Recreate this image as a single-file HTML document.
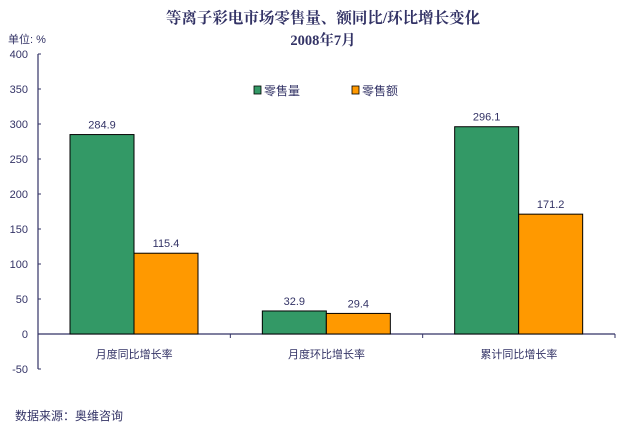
<!DOCTYPE html>
<html><head><meta charset="utf-8"><style>
body{margin:0;background:#fff;}
svg{display:block;font-family:"Liberation Sans","Noto Sans CJK SC",sans-serif;}
</style></head><body>
<svg id="c" width="618" height="432">
<text x="323" y="23" text-anchor="middle" font-size="15.5" font-weight="bold" fill="#333366" font-family="'Liberation Serif','Noto Serif CJK SC',serif">等离子彩电市场零售量、额同比/环比增长变化</text>
<text x="323" y="45" text-anchor="middle" font-size="14.5" font-weight="bold" fill="#333366" font-family="'Liberation Serif','Noto Serif CJK SC',serif">2008年7月</text>
<text x="8" y="43" font-size="11" fill="#333366">单位: %</text>
<g id="legend">
<g><rect x="254" y="86" width="7" height="8" fill="#339966" stroke="#000" stroke-width="0.8"/><text x="264" y="95" font-size="12" fill="#333366">零售量</text></g>
<g><rect x="352" y="86" width="7" height="8" fill="#FF9900" stroke="#000" stroke-width="0.8"/><text x="362" y="95" font-size="12" fill="#333366">零售额</text></g>
</g>
<text x="15" y="420" font-size="12" fill="#333366">数据来源：奥维咨询</text>
</svg>
<script>
const categories=["月度同比增长率","月度环比增长率","累计同比增长率"];
const volume=[284.9,32.9,296.1];
const value=[115.4,29.4,171.2];
const ticks=[-50,0,50,100,150,200,250,300,350,400];
const svg=document.getElementById('c');const NS="http://www.w3.org/2000/svg";
const x0=38,x1=615,yMin=-50,yMax=400,yTop=54,yBot=369;
const y=v=>yBot-(v-yMin)/(yMax-yMin)*(yBot-yTop);
const cw=(x1-x0)/categories.length;
function mk(t,a){const e=document.createElementNS(NS,t);for(const k in a)e.setAttribute(k,a[k]);svg.appendChild(e);return e;}
let ax=mk('line',{x1:x0,y1:yTop,x2:x0,y2:yBot,stroke:'#333366','stroke-width':1.2});


ticks.forEach(t=>{
 let l=mk('line',{x1:x0,y1:y(t),x2:x0+3,y2:y(t),stroke:'#333366'});
 
 
 let tx=mk('text',{x:x0-10,y:y(t)+4,'text-anchor':'end','font-size':11,fill:'#333366'});tx.textContent=t;
 
 
});
let xa=mk('line',{x1:x0,y1:y(0),x2:x1,y2:y(0),stroke:'#333366','stroke-width':1.2});


categories.forEach((c,i)=>{
 const cx=x0+cw*i;
 let tk=mk('line',{x1:cx+cw,y1:y(0),x2:cx+cw,y2:y(0)+4,stroke:'#333366'});
 
 
 let lb=mk('text',{x:cx+cw/2,y:y(0)+24,'text-anchor':'middle','font-size':11,fill:'#333366'});lb.textContent=c;
 
 
 const bw=64,bx=cx+32;
 [[volume,'#339966',bx],[value,'#FF9900',bx+bw]].forEach(([arr,col,xx],s)=>{
  const v=arr[i];
  let r=mk('rect',{x:xx,y:y(v),width:bw,height:y(0)-y(v),fill:col,stroke:'#000','stroke-width':1});
  
  
  let t=mk('text',{x:xx+bw/2,y:y(v)-6,'text-anchor':'middle','font-size':11,fill:'#333366'});t.textContent=v.toFixed(1);
  
  
 });
});
</script>
</body></html>
